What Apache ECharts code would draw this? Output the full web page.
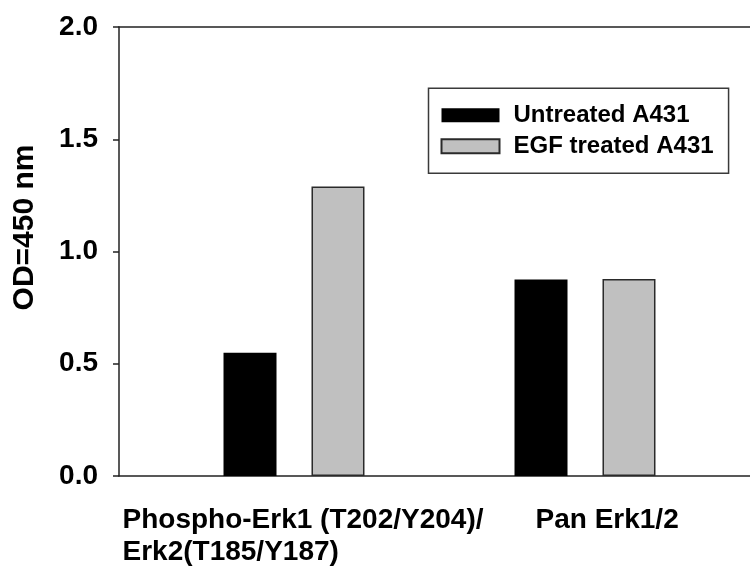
<!DOCTYPE html>
<html>
<head>
<meta charset="utf-8">
<script src="https://cdn.jsdelivr.net/npm/echarts@6/dist/echarts.min.js"></script>
<style>html,body{margin:0;padding:0;background:#fff;}#c{width:750px;height:567px;}</style>
</head>
<body>
<div id="c"></div>
<script>
const categories = ['Phospho-Erk1 (T202/Y204)/\nErk2(T185/Y187)', 'Pan Erk1/2'];
const untreated = [0.549, 0.875];
const egfTreated = [1.289, 0.878];
const seriesNames = ['Untreated A431', 'EGF treated A431'];
const yTicks = { min: 0, max: 2.0, interval: 0.5 };

const FONT = 'Liberation Sans';
const chart = echarts.init(document.getElementById('c'), null, { renderer: 'canvas' });

const option = {
  backgroundColor: '#fff',
  animation: false,
  textStyle: { fontFamily: FONT },
  grid: [
    { left: 119, right: -5, top: 27, bottom: 91 },
    { left: 148.5, width: 582, top: 27, bottom: 91 }
  ],
  legend: {
    orient: 'vertical',
    left: 428.5,
    top: 88.3,
    width: 302,
    padding: [15, 15, 15, 12],
    borderColor: '#3a3a3a',
    borderWidth: 1.5,
    itemWidth: 58,
    itemHeight: 14,
    itemGap: 7,
    icon: 'rect',
    data: seriesNames,
    textStyle: { fontFamily: FONT, fontWeight: 'bold', fontSize: 24, color: '#000', padding: [0, 0, 0, 9] }
  },
  xAxis: [
    { gridIndex: 0, type: 'category', data: [], position: 'bottom',
      axisLine: { show: true, lineStyle: { color: '#222', width: 1.5 } },
      axisTick: { show: false }, axisLabel: { show: false }, splitLine: { show: false } },
    { gridIndex: 0, type: 'category', data: [], position: 'top',
      axisLine: { show: true, lineStyle: { color: '#222', width: 1.5 } },
      axisTick: { show: false }, axisLabel: { show: false }, splitLine: { show: false } },
    { gridIndex: 1, type: 'category', data: categories,
      axisLine: { show: false }, axisTick: { show: false }, splitLine: { show: false },
      axisLabel: {
        margin: 28,
        interval: 0,
        formatter: function (v, i) {
          const lines = v.split('\n');
          const key = i === 0 ? 'a' : 'b';
          return lines.map(l => '{' + key + '|' + l + '}').join('\n');
        },
        rich: {
          a: { width: 343, align: 'left', fontFamily: FONT, fontWeight: 'bold', fontSize: 28, lineHeight: 32, color: '#000' },
          b: { width: 99, align: 'left', fontFamily: FONT, fontWeight: 'bold', fontSize: 28, lineHeight: 32, color: '#000' }
        }
      } }
  ],
  yAxis: [
    { gridIndex: 0, type: 'value', min: yTicks.min, max: yTicks.max, interval: yTicks.interval,
      name: 'OD=450 nm', nameLocation: 'middle', nameRotate: 90, nameGap: 79,
      nameTextStyle: { fontFamily: FONT, fontWeight: 'bold', fontSize: 30, color: '#000', padding: [0, 0, 0, 48] },
      axisLine: { show: true, lineStyle: { color: '#222', width: 1.5 } },
      axisTick: { show: true, inside: false, length: 6, lineStyle: { color: '#222', width: 1.5 } },
      axisLabel: { margin: 21, fontFamily: FONT, fontWeight: 'bold', fontSize: 28, color: '#000',
        formatter: v => v.toFixed(1) },
      splitLine: { show: false } },
    { gridIndex: 1, type: 'value', min: yTicks.min, max: yTicks.max, interval: yTicks.interval, show: false,
      splitLine: { show: false } }
  ],
  series: [
    { name: seriesNames[0], type: 'bar', xAxisIndex: 2, yAxisIndex: 1, data: untreated,
      barWidth: 53, barGap: '66%',
      itemStyle: { color: '#000', borderColor: '#000', borderWidth: 0 } },
    { name: seriesNames[1], type: 'bar', xAxisIndex: 2, yAxisIndex: 1, data: egfTreated,
      barWidth: 53, barGap: '66%',
      itemStyle: { color: '#c0c0c0', borderColor: '#2a2a2a', borderWidth: 1.5 } }
  ]
};
chart.setOption(option);
</script>
</body>
</html>
